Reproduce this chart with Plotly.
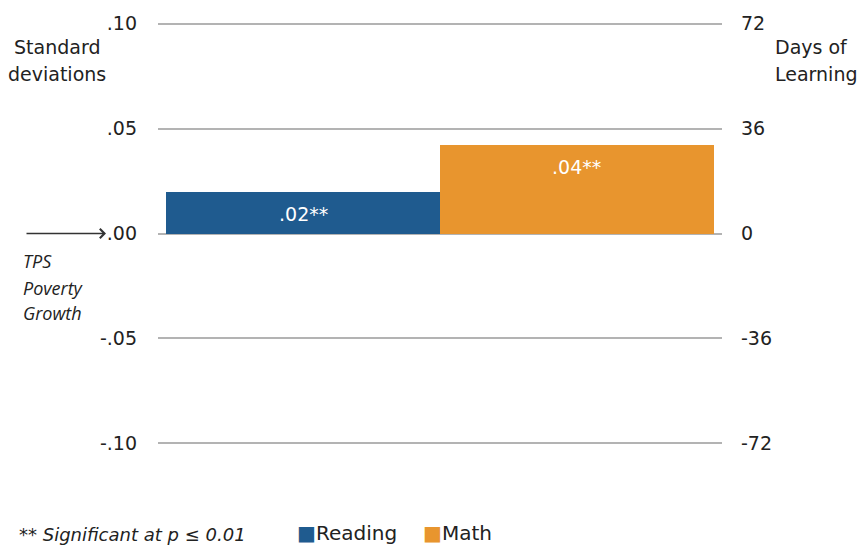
import plotly.graph_objects as go

# Effect sizes by subject (standard deviations)
subjects = ["Reading", "Math"]
effects = [0.020, 0.042]
significance = ["**", "**"]
colors = ["#1f5b8f", "#e8952e"]

sd_ticks = [-0.10, -0.05, 0.00, 0.05, 0.10]
sd_tick_labels = ["-.10", "-.05", ".00", ".05", ".10"]
days_ticks = [-72, -36, 0, 36, 72]
days_tick_labels = ["-72", "-36", "0", "36", "72"]
DAYS_PER_SD = 720

baseline_label = ["TPS", "Poverty", "Growth"]

FONT = "DejaVu Sans"
TEXT = "#222222"
GRID = "#b3b3b3"

W, H = 859, 547
ML, MR, MT, MB = 158, 137, 20, 102
PW, PH = W - ML - MR, H - MT - MB


def px_x(p):
    return (p - ML) / PW


def px_y(p):
    return (H - MB - p) / PH


yr = [-0.1008, 0.1008]

fig = go.Figure()
for i, (s, v, c) in enumerate(zip(subjects, effects, colors)):
    fig.add_trace(go.Bar(
        x=[i], y=[v], name=s, marker=dict(color=c, line=dict(width=0)),
        width=1, showlegend=False, hoverinfo="skip",
    ))
    fig.add_annotation(
        x=i, y=v, xref="x", yref="y", yshift=-22,
        text=("%.2f" % v).lstrip("0") + significance[i],
        showarrow=False, font=dict(family=FONT, size=19, color="white"),
    )

# invisible trace to drive the right-hand axis
fig.add_trace(go.Scatter(x=[0], y=[0], yaxis="y2", mode="markers",
                         marker=dict(opacity=0), showlegend=False, hoverinfo="skip"))

fig.update_layout(
    width=W, height=H,
    margin=dict(l=ML, r=MR, t=MT, b=MB),
    paper_bgcolor="white", plot_bgcolor="white",
    bargap=0,
    font=dict(family=FONT, color=TEXT),
    xaxis=dict(range=[-0.53, 1.53], showticklabels=False, showgrid=False,
               zeroline=False, showline=False, fixedrange=True),
    yaxis=dict(range=yr, tickvals=sd_ticks, ticktext=sd_tick_labels,
               showgrid=True, gridcolor=GRID, gridwidth=1.5,
               zeroline=True, zerolinecolor=GRID, zerolinewidth=1.5,
               ticks="", ticklabelstandoff=20,
               tickfont=dict(family=FONT, size=19, color=TEXT), layer="below traces"),
    yaxis2=dict(range=[yr[0] * DAYS_PER_SD, yr[1] * DAYS_PER_SD], overlaying="y",
                side="right", tickvals=days_ticks, ticktext=days_tick_labels,
                showgrid=False, zeroline=False, ticks="", ticklabelstandoff=18,
                tickfont=dict(family=FONT, size=19, color=TEXT)),
)

# axis titles
for txt, y in (("Standard", 45), ("deviations", 72)):
    fig.add_annotation(xref="paper", yref="paper", x=px_x(57), y=px_y(y),
                       xanchor="center", yanchor="middle", text=txt, showarrow=False,
                       font=dict(family=FONT, size=19, color=TEXT))
for txt, y in (("Days of", 45), ("Learning", 72)):
    fig.add_annotation(xref="paper", yref="paper", x=px_x(773), y=px_y(y),
                       xanchor="left", yanchor="middle", text=txt, showarrow=False,
                       font=dict(family=FONT, size=19, color=TEXT))

# arrow pointing at the TPS baseline
fig.add_annotation(xref="paper", yref="y", x=px_x(106), y=0, ax=-81, ay=0,
                   axref="pixel", ayref="pixel", text="", showarrow=True,
                   arrowhead=4, arrowsize=1.3, arrowwidth=1.4, arrowcolor="#333333")
for txt, y in zip(baseline_label, (260, 287, 312)):
    fig.add_annotation(xref="paper", yref="paper", x=px_x(21), y=px_y(y),
                       xanchor="left", yanchor="middle", text=f"<i>{txt}</i>",
                       showarrow=False, font=dict(family="Open Sans", size=18, color=TEXT))

# footnote and legend
fig.add_annotation(xref="paper", yref="paper", x=px_x(17), y=px_y(535),
                   xanchor="left", yanchor="middle",
                   text="** <i>Significant at p ≤ 0.01</i>", showarrow=False,
                   font=dict(family=FONT, size=18, color=TEXT))
for s, c, lx in zip(subjects, colors, (296, 422)):
    fig.add_annotation(xref="paper", yref="paper", x=px_x(lx), y=px_y(533),
                       xanchor="left", yanchor="middle", borderpad=0,
                       text=f"<span style='color:{c}'>■</span>{s}", showarrow=False,
                       font=dict(family=FONT, size=20, color=TEXT))

fig.write_html("out.html")
